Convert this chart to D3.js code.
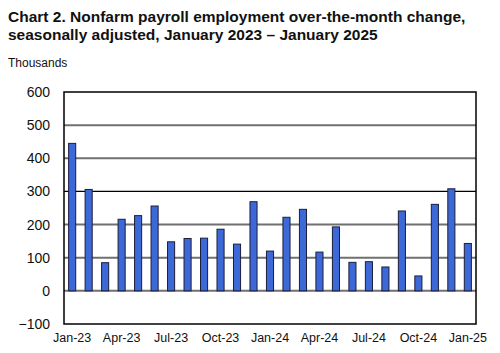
<!DOCTYPE html>
<html>
<head>
<meta charset="utf-8">
<script src="https://cdn.jsdelivr.net/npm/d3@7"></script>
<style>
  body { margin: 0; background: #fff; }
  svg { display: block; font-family: "Liberation Sans", Arial, sans-serif; }
</style>
</head>
<body>
<div id="chart"></div>
<script>
var width = 500;
var height = 353;

// monthly change, thousands
var months = ["Jan-23","Feb-23","Mar-23","Apr-23","May-23","Jun-23","Jul-23","Aug-23","Sep-23","Oct-23","Nov-23","Dec-23",
              "Jan-24","Feb-24","Mar-24","Apr-24","May-24","Jun-24","Jul-24","Aug-24","Sep-24","Oct-24","Nov-24","Dec-24",
              "Jan-25"];
var values = [445, 306, 85, 216, 227, 256, 148, 158, 159, 186, 141, 269,
              120, 222, 246, 117, 193, 86, 88, 72, 241, 45, 261, 308,
              143];
var yTicks = [-100, 0, 100, 200, 300, 400, 500, 600];
var xLabels = ["Jan-23","Apr-23","Jul-23","Oct-23","Jan-24","Apr-24","Jul-24","Oct-24","Jan-25"];

var plot = {left: 64, right: 476, top: 92, bottom: 324};

var svg = d3.select("#chart").append("svg")
    .attr("width", width)
    .attr("height", height);

svg.append("text")
    .attr("x", 8).attr("y", 21.5)
    .style("font-weight", "bold").style("font-size", "15.5px")
    .attr("fill", "#111")
    .text("Chart 2. Nonfarm payroll employment over-the-month change,");
svg.append("text")
    .attr("x", 8).attr("y", 39.5)
    .style("font-weight", "bold").style("font-size", "15.5px")
    .attr("fill", "#111")
    .text("seasonally adjusted, January 2023 \u2013 January 2025");
svg.append("text")
    .attr("x", 8).attr("y", 66.5)
    .style("font-size", "12px")
    .attr("fill", "#111")
    .text("Thousands");

var x = d3.scaleBand()
    .domain(months)
    .range([plot.left, plot.right])
    .paddingInner(0.57)
    .paddingOuter(0.28);

var y = d3.scaleLinear()
    .domain([-100, 600])
    .range([plot.bottom, plot.top]);

// gridlines
svg.append("g")
  .selectAll("line")
  .data(yTicks.filter(function(d) { return d > -100 && d < 600; }))
  .join("line")
    .attr("x1", plot.left).attr("x2", plot.right)
    .attr("y1", function(d) { return y(d); })
    .attr("y2", function(d) { return y(d); })
    .attr("stroke", function(d) { return d === 300 ? "#000" : "#707070"; })
    .attr("stroke-width", function(d) { return d === 300 ? 1.2 : 2; });

// bars
svg.append("g")
  .selectAll("rect")
  .data(values)
  .join("rect")
    .attr("x", function(d, i) { return x(months[i]); })
    .attr("width", x.bandwidth())
    .attr("y", function(d) { return y(Math.max(0, d)); })
    .attr("height", function(d) { return Math.abs(y(d) - y(0)); })
    .attr("fill", "#3d68d8")
    .attr("stroke", "#1a1f3a")
    .attr("stroke-width", 1);

// frame
svg.append("rect")
    .attr("x", plot.left).attr("y", plot.top)
    .attr("width", plot.right - plot.left)
    .attr("height", plot.bottom - plot.top)
    .attr("fill", "none")
    .attr("stroke", "#000")
    .attr("stroke-width", 1.5);

// y axis
var yAxis = d3.axisLeft(y).tickValues(yTicks).tickSize(0).tickPadding(14);
var yg = svg.append("g")
    .attr("transform", "translate(" + plot.left + ",0)")
    .call(yAxis);
yg.select(".domain").remove();
yg.selectAll("text").style("font-size", "14px").attr("fill", "#111");

// x axis
var xAxis = d3.axisBottom(x).tickValues(xLabels).tickSize(0).tickPadding(9);
var xg = svg.append("g")
    .attr("transform", "translate(0," + plot.bottom + ")")
    .call(xAxis);
xg.select(".domain").remove();
xg.selectAll("text").style("font-size", "12.5px").attr("fill", "#111");
</script>
</body>
</html>
